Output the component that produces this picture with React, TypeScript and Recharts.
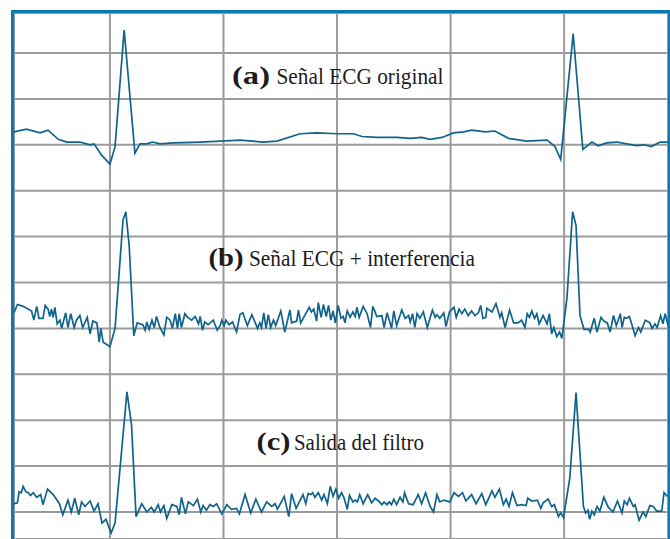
import { LineChart, Line, XAxis, YAxis, CartesianGrid } from "recharts";

// time in ms, amplitude in mV; one grid square = 200 ms x 0.5 mV
const originalSignal: [number, number][] = [
  [31, 0.14], [53, 0.17], [77, 0.13], [91, 0.16], [109, 0.06], [124, 0.03], [147, 0.03], [165, 0.0],
  [172, 0.01], [185, -0.11], [200, -0.21], [209, -0.02], [225, 1.25], [244, -0.09], [253, 0.01], [265, 0.01],
  [275, 0.03], [288, 0.01], [312, 0.02], [359, 0.03], [394, 0.04], [429, 0.05], [470, 0.03], [494, 0.04],
  [535, 0.12], [564, 0.13], [600, 0.12], [629, 0.12], [644, 0.09], [670, 0.08], [705, 0.08], [729, 0.07],
  [749, 0.08], [764, 0.06], [785, 0.08], [805, 0.13], [823, 0.14], [837, 0.16], [861, 0.14], [878, 0.15],
  [902, 0.07], [934, 0.04], [970, 0.05], [984, -0.02], [994, -0.16], [1016, 1.21], [1033, -0.05], [1049, 0.03],
  [1060, -0.01], [1075, 0.02], [1093, 0.03], [1110, 0.01], [1128, -0.01], [1140, 0.0], [1154, -0.02], [1169, 0.03],
  [1187, 0.03],
];

const noisySignal: [number, number][] = [
  [31, 0.17], [37, 0.26], [47, 0.24], [62, 0.19], [66, 0.09], [71, 0.24], [75, 0.11], [82, 0.11],
  [86, 0.25], [91, 0.21], [94, 0.13], [97, 0.21], [100, 0.12], [103, 0.23], [107, 0.05], [112, 0.09],
  [115, 0.0], [122, 0.17], [126, 0.01], [131, 0.16], [137, 0.01], [141, 0.09], [147, 0.14], [152, 0.01],
  [160, 0.12], [165, -0.06], [170, 0.08], [177, 0.06], [181, -0.15], [184, 0.0], [188, -0.15], [200, -0.2],
  [209, 0.0], [223, 1.18], [228, 1.27], [234, 0.89], [242, -0.08], [248, 0.06], [258, 0.04], [262, -0.02],
  [265, 0.07], [269, -0.01], [274, 0.09], [278, 0.01], [282, 0.13], [288, 0.01], [295, -0.07], [300, 0.12],
  [306, 0.09], [310, 0.0], [315, 0.16], [319, 0.0], [322, 0.16], [326, 0.01], [332, 0.16], [337, 0.12],
  [344, 0.09], [350, 0.13], [356, 0.05], [359, 0.13], [363, -0.02], [367, 0.07], [373, 0.04], [382, 0.09],
  [389, -0.02], [394, 0.03], [397, 0.09], [401, 0.03], [404, 0.09], [410, 0.04], [416, 0.07], [423, -0.04],
  [429, 0.15], [434, 0.17], [442, 0.03], [450, 0.15], [460, 0.0], [464, 0.06], [467, 0.01], [471, 0.17],
  [475, 0.0], [479, 0.15], [483, 0.01], [488, 0.09], [492, 0.03], [501, 0.19], [508, -0.04], [517, 0.2],
  [520, 0.06], [529, 0.08], [532, 0.2], [536, 0.06], [551, 0.23], [555, 0.18], [559, 0.21], [564, 0.08],
  [567, 0.28], [572, 0.12], [576, 0.26], [581, 0.13], [585, 0.25], [589, 0.09], [593, 0.19], [597, 0.06],
  [602, 0.25], [607, 0.11], [611, 0.13], [614, 0.06], [618, 0.19], [623, 0.12], [628, 0.18], [632, 0.13],
  [635, 0.23], [639, 0.12], [646, 0.24], [653, 0.16], [659, 0.01], [663, 0.24], [667, 0.18], [670, 0.13],
  [679, 0.14], [683, 0.01], [688, 0.17], [692, 0.09], [696, 0.0], [700, 0.19], [705, 0.03], [714, 0.2],
  [720, 0.11], [726, 0.14], [729, 0.07], [733, 0.16], [737, 0.01], [741, 0.16], [746, 0.11], [752, 0.18],
  [759, 0.01], [768, 0.2], [773, 0.12], [776, 0.15], [781, 0.11], [788, 0.17], [792, 0.02], [798, 0.18],
  [806, 0.23], [810, 0.12], [815, 0.21], [820, 0.16], [825, 0.21], [831, 0.14], [837, 0.19], [843, 0.14],
  [849, 0.17], [853, 0.25], [857, 0.11], [862, 0.12], [864, 0.22], [873, 0.18], [880, 0.27], [887, 0.12],
  [890, 0.17], [896, 0.01], [904, 0.2], [911, 0.06], [919, 0.06], [925, 0.09], [931, 0.01], [935, 0.16],
  [939, 0.12], [943, 0.19], [948, 0.11], [952, 0.16], [956, 0.05], [963, 0.14], [970, 0.05], [974, 0.16],
  [978, -0.06], [982, 0.01], [987, -0.09], [992, -0.04], [996, -0.11], [1005, 0.33], [1015, 1.27], [1021, 1.12],
  [1028, 0.14], [1035, -0.01], [1043, -0.01], [1046, -0.04], [1053, 0.11], [1058, -0.04], [1065, 0.12], [1070, 0.08],
  [1076, 0.06], [1081, -0.04], [1087, 0.14], [1092, 0.03], [1099, 0.16], [1102, 0.01], [1106, 0.12], [1110, 0.11],
  [1115, 0.13], [1119, 0.05], [1125, -0.08], [1131, 0.01], [1135, -0.04], [1143, 0.09], [1151, 0.06], [1155, 0.0],
  [1160, 0.05], [1164, 0.01], [1170, 0.14], [1174, 0.05], [1178, 0.16], [1184, 0.01],
];

const filteredSignal: [number, number][] = [
  [31, 0.09], [37, 0.1], [40, 0.22], [44, 0.21], [47, 0.28], [52, 0.22], [56, 0.21], [60, 0.18],
  [65, 0.21], [71, 0.16], [78, 0.19], [82, 0.08], [90, 0.25], [100, 0.19], [111, 0.09], [117, -0.03],
  [126, 0.13], [132, 0.0], [138, 0.15], [145, -0.03], [150, 0.11], [156, 0.06], [165, 0.12], [172, 0.01],
  [179, 0.09], [186, -0.12], [193, -0.08], [202, -0.23], [209, -0.12], [230, 1.31], [238, 0.95], [246, -0.05],
  [256, 0.09], [265, 0.0], [273, 0.05], [278, 0.0], [285, 0.08], [289, 0.0], [295, 0.07], [300, -0.07],
  [309, 0.08], [318, 0.06], [322, -0.03], [326, 0.16], [333, -0.02], [338, 0.11], [347, 0.07], [354, 0.14],
  [360, 0.0], [364, 0.07], [370, 0.02], [376, 0.08], [382, 0.06], [388, 0.09], [397, -0.02], [406, 0.08],
  [414, 0.03], [423, 0.04], [428, -0.02], [438, 0.19], [448, -0.01], [457, 0.14], [467, 0.0], [476, 0.11],
  [485, 0.06], [491, 0.09], [495, 0.03], [507, 0.17], [515, -0.05], [520, 0.2], [528, 0.04], [540, 0.19],
  [545, 0.09], [549, 0.2], [554, 0.19], [557, 0.21], [561, 0.16], [567, 0.21], [573, 0.13], [577, 0.19],
  [583, 0.09], [588, 0.28], [593, 0.17], [598, 0.25], [603, 0.15], [608, 0.21], [612, 0.16], [618, 0.03],
  [622, 0.18], [628, 0.11], [632, 0.13], [636, 0.11], [640, 0.19], [646, 0.09], [654, 0.19], [661, 0.1],
  [667, 0.15], [673, 0.12], [679, 0.08], [683, 0.11], [688, 0.08], [692, 0.11], [696, 0.08], [700, 0.14],
  [705, 0.08], [711, 0.16], [716, 0.11], [719, 0.21], [726, 0.09], [734, 0.08], [743, 0.19], [749, 0.09],
  [756, 0.21], [764, 0.06], [770, 0.0], [776, 0.19], [781, 0.11], [788, 0.13], [799, 0.11], [806, 0.21],
  [814, 0.17], [821, 0.21], [827, 0.12], [837, 0.19], [845, 0.09], [855, 0.2], [862, 0.08], [873, 0.23],
  [878, 0.16], [886, 0.25], [893, 0.08], [898, 0.14], [903, 0.06], [909, 0.21], [917, 0.07], [925, 0.08],
  [933, 0.07], [936, 0.15], [943, 0.12], [953, 0.13], [959, 0.04], [963, 0.1], [972, 0.14], [978, 0.06],
  [983, 0.08], [990, -0.05], [994, -0.01], [999, -0.06], [1010, 0.37], [1021, 1.3], [1034, 0.06], [1038, -0.01],
  [1042, 0.02], [1045, -0.08], [1049, 0.01], [1053, -0.03], [1058, 0.06], [1063, 0.01], [1070, 0.16], [1078, 0.05],
  [1086, 0.0], [1094, 0.12], [1102, -0.01], [1106, 0.12], [1111, 0.08], [1115, 0.15], [1122, 0.06], [1125, 0.08],
  [1132, -0.09], [1139, 0.0], [1144, -0.05], [1151, 0.07], [1157, 0.06], [1163, 0.01], [1172, 0.01], [1176, 0.21],
  [1182, 0.17],
];

const timeTicks = [200, 400, 600, 800, 1000];
const gridTicks = [0, 1, 2, 3, 4, 5, 6, 7, 8, 9, 10];

const TIME_DOMAIN: [number, number] = [31, 1183];
const GRID_DOMAIN: [number, number] = [-0.588, 10.871];
const MV_PER_SQUARE = 0.5;

const LINE = "#10638b";
const FRAME = "#0a79b5";
const GRID = "#9b9b9b";
const FONT = '"Liberation Serif", "Times New Roman", serif';

// each trace gets its own hidden axis, with its zero on a grid line
const panelDomain = (baseSquare: number): [number, number] => [
  (GRID_DOMAIN[0] - baseSquare) * MV_PER_SQUARE,
  (GRID_DOMAIN[1] - baseSquare) * MV_PER_SQUARE,
];

const toRows = (pairs: [number, number][]) => pairs.map(([t, v]) => ({ t, v }));

const panels = [
  { id: "a", base: 8, rows: toRows(originalSignal) },
  { id: "b", base: 4, rows: toRows(noisySignal) },
  { id: "c", base: 0, rows: toRows(filteredSignal) },
];

function Title({ x, gap, y, tag, text, tagLen, textLen }: {
  x: number; gap: number; y: number; tag: string; text: string; tagLen: number; textLen: number;
}) {
  return (
    <g fill="#1e1b1c" fontFamily={FONT}>
      <text x={x} y={y} fontSize={26} fontWeight="bold" textLength={tagLen} lengthAdjust="spacingAndGlyphs">
        {tag}
      </text>
      <text x={gap} y={y} fontSize={24} textLength={textLen} lengthAdjust="spacingAndGlyphs">
        {text}
      </text>
    </g>
  );
}

export default function App() {
  return (
    <div style={{ position: "fixed", left: 0, top: 0, width: 670, height: 539, overflow: "hidden", background: "#fff" }}>
      <div
        style={{
          position: "absolute",
          left: 11,
          top: 10,
          width: 654,
          height: 600,
          borderTop: `3px solid ${FRAME}`,
          borderLeft: `3px solid ${FRAME}`,
          borderRight: `3px solid ${FRAME}`,
        }}
      >
        <LineChart width={654} height={526} margin={{ top: 0, right: 0, bottom: 0, left: 0 }}>
          <CartesianGrid xAxisId="time" yAxisId="grid" stroke={GRID} strokeWidth={2} />
          <XAxis xAxisId="time" type="number" dataKey="t" domain={TIME_DOMAIN} ticks={timeTicks} allowDataOverflow hide />
          <YAxis yAxisId="grid" type="number" domain={GRID_DOMAIN} ticks={gridTicks} allowDataOverflow hide />
          {panels.map((p) => (
            <YAxis key={`y-${p.id}`} yAxisId={p.id} type="number" domain={panelDomain(p.base)} allowDataOverflow hide />
          ))}
          {panels.map((p) => (
            <Line
              key={`line-${p.id}`}
              xAxisId="time"
              yAxisId={p.id}
              data={p.rows}
              dataKey="v"
              type="linear"
              stroke={LINE}
              strokeWidth={1.7}
              dot={false}
              activeDot={false}
              isAnimationActive={false}
            />
          ))}
        </LineChart>
      </div>
      <svg width={670} height={539} style={{ position: "absolute", left: 0, top: 0, pointerEvents: "none" }}>
        <Title x={232} gap={276.5} y={83.5} tag="(a)" text="Señal ECG original" tagLen={38} textLen={167} />
        <Title x={208.5} gap={249} y={266} tag="(b)" text="Señal ECG + interferencia" tagLen={35} textLen={226} />
        <Title x={256.5} gap={294} y={450} tag="(c)" text="Salida del filtro" tagLen={34} textLen={130} />
      </svg>
    </div>
  );
}
